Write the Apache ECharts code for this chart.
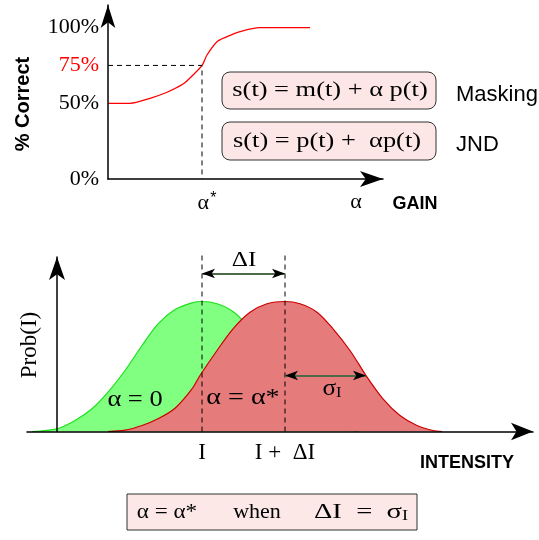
<!DOCTYPE html>
<html><head><meta charset="utf-8">
<script src="https://cdn.jsdelivr.net/npm/echarts@6/dist/echarts.min.js"></script>
<style>html,body{margin:0;padding:0;background:#fff}#c{width:539px;height:540px}</style>
</head><body><div id="c"></div>
<script>
// ---- Top panel: % correct vs gain ----
const gainCurve = [[0,50],[22,50],[42,53.3],[59,57.3],[75,62.7],[85,68.7],[94,75],[99,81.9],[109,90.7],[119,94],[132,97.3],[152,99.9],[202,100]];
const pctTicks = [0, 50, 75, 100];
const thresholdPct = 75;
const alphaStar = 94;
const alphaMark = 248;
const gainLabels = ['α', '*'];

// ---- Bottom panel: intensity distributions ----
const probAlpha0 = [[-25,0],[0,2.7],[18,11],[35,22.7],[51,39.3],[68,61],[85,86],[101,107.7],[118,122],[135,128.7],[145,130],[160,127.7],[177,119.3],[193,102.7],[210,81],[226,56],[243,32.7],[260,16],[277,6],[293,1],[302,0]];
const probAlphaStar = [[51,0],[68,1.3],[85,6],[101,12.7],[118,23.3],[135,42.7],[143,56],[160,81],[176,102.7],[193,119.3],[210,127.7],[228,130],[243,127.7],[260,119.3],[276,102.7],[293,81],[309,56],[326,32.7],[343,16],[360,6],[376,1],[385,0]];
const intensityI = 145;
const intensityIplus = 228;
const guideTop = 177;
const deltaArrowLevel = 158;
const sigmaLevel = 56;
const sigmaEnd = 309;
const intensityLabels = ['I', 'I +  ΔI'];

const SERIF = 'Liberation Serif, Times New Roman, serif';
const SANS = 'Liberation Sans, Arial, sans-serif';

const chart = echarts.init(document.getElementById('c'), null, {renderer: 'canvas'});

function axisLineStyle(size) {
  return {show: true, onZero: true, symbol: ['none', 'arrow'], symbolSize: size,
          lineStyle: {color: '#000', width: 1.5}};
}
function txt(x, y, text, font, sx, extra) {
  return {type: 'text', x: x, y: y, z: 100, scaleX: sx || 1,
    style: Object.assign({text: text, font: font, fill: '#000', align: 'center', verticalAlign: 'middle'}, extra || {})};
}

const option = {
  animation: false,
  backgroundColor: '#fff',
  grid: [
    {left: 108, top: 5, width: 275, height: 174, containLabel: false, outerBoundsMode: 'none'},
    {left: 27, top: 257, width: 506, height: 174.5, containLabel: false, outerBoundsMode: 'none'}
  ],
  xAxis: [
    {type: 'value', gridIndex: 0, min: 0, max: 275, z: 5,
     axisLine: axisLineStyle([12, 23]), axisTick: {show: false}, splitLine: {show: false},
     axisLabel: {customValues: [alphaStar, alphaMark], margin: 12, color: '#000',
       fontFamily: SERIF, fontSize: 22,
       formatter: v => v === alphaStar ? '{p|}{a|' + gainLabels[0] + '}{s|' + gainLabels[1] + '}' : '{a|' + gainLabels[0] + '}',
       rich: {a: {fontFamily: SERIF, fontSize: 22, color: '#000'},
              s: {fontFamily: SANS, fontSize: 16, color: '#000', padding: [0, 0, 8, 1]},
              p: {width: 10}}}},
    {type: 'value', gridIndex: 1, min: -30, max: 476, z: 5,
     axisLine: axisLineStyle([13, 22]), axisTick: {show: false}, splitLine: {show: false},
     axisLabel: {customValues: [intensityI, intensityIplus], margin: 10, color: '#000',
       fontFamily: SERIF, fontSize: 23,
       formatter: v => v === intensityI ? intensityLabels[0] : intensityLabels[1]}}
  ],
  yAxis: [
    {type: 'value', gridIndex: 0, min: 0, max: 114.9, z: 5,
     axisLine: axisLineStyle([11, 23]), axisTick: {show: false}, splitLine: {show: false},
     axisLabel: {customValues: pctTicks, margin: 9, fontFamily: SERIF, fontSize: 22,
       formatter: v => v + '%',
       color: v => (String(v).indexOf(String(thresholdPct)) === 0 ? '#ff0000' : '#000')}},
    {type: 'value', gridIndex: 1, min: 0, max: 174.5, z: 5,
     axisLine: axisLineStyle([12, 23]), axisTick: {show: false}, splitLine: {show: false},
     axisLabel: {show: false}}
  ],
  series: [
    {type: 'line', xAxisIndex: 0, yAxisIndex: 0, data: gainCurve, smooth: 0.3, symbol: 'none',
     lineStyle: {color: '#ff0000', width: 1.3}, z: 3},
    {type: 'line', xAxisIndex: 0, yAxisIndex: 0,
     data: [[0, thresholdPct], [alphaStar, thresholdPct], [alphaStar, 0]], symbol: 'none',
     lineStyle: {color: '#000', width: 1, type: [5, 4]}, z: 3},
    {type: 'line', xAxisIndex: 1, yAxisIndex: 1, data: probAlpha0, smooth: 0.3, symbol: 'none',
     lineStyle: {color: '#1ee01e', width: 1.2}, areaStyle: {color: '#80ff80', opacity: 1}, z: 2},
    {type: 'line', xAxisIndex: 1, yAxisIndex: 1, data: probAlphaStar, smooth: 0.3, symbol: 'none',
     lineStyle: {color: '#cc0000', width: 1.2}, areaStyle: {color: '#e57b7b', opacity: 1}, z: 3},
    {type: 'line', xAxisIndex: 1, yAxisIndex: 1, data: [[intensityI, 0], [intensityI, guideTop]],
     symbol: 'none', clip: false, lineStyle: {color: '#000', width: 1, type: [5, 4]}, z: 4},
    {type: 'line', xAxisIndex: 1, yAxisIndex: 1, data: [[intensityIplus, 0], [intensityIplus, guideTop]],
     symbol: 'none', clip: false, lineStyle: {color: '#000', width: 1, type: [5, 4]}, z: 4},
    {type: 'line', xAxisIndex: 1, yAxisIndex: 1, data: [], symbol: 'none', z: 6,
     markLine: {silent: true, animation: false, symbol: ['none', 'none'], label: {show: false},
       lineStyle: {color: '#4d6b48', width: 2, type: 'solid'},
       data: [[{coord: [intensityI, deltaArrowLevel]}, {coord: [intensityIplus, deltaArrowLevel]}],
              [{coord: [intensityIplus, sigmaLevel]}, {coord: [sigmaEnd, sigmaLevel]}]]}},
    {type: 'line', xAxisIndex: 1, yAxisIndex: 1, data: [], symbol: 'none', z: 7,
     markLine: {silent: true, animation: false, symbol: ['arrow', 'arrow'], symbolSize: [7, 13],
       label: {show: false}, lineStyle: {color: '#000', width: 0, type: 'solid'},
       data: [[{coord: [intensityI, deltaArrowLevel]}, {coord: [intensityIplus, deltaArrowLevel]}],
              [{coord: [intensityIplus, sigmaLevel]}, {coord: [sigmaEnd, sigmaLevel]}]]}}
  ],
  graphic: [
    Object.assign(txt(23, 104, '% Correct', 'bold 20px ' + SANS), {rotation: Math.PI / 2}),
    txt(415, 204, 'GAIN', 'bold 18px ' + SANS),
    {type: 'rect', z: 50, shape: {x: 222, y: 72, width: 214, height: 37, r: 8},
     style: {fill: '#fde6e6', stroke: '#333', lineWidth: 1}},
    {type: 'rect', z: 50, shape: {x: 222, y: 122, width: 214, height: 38, r: 8},
     style: {fill: '#fde6e6', stroke: '#333', lineWidth: 1}},
    txt(330, 90.5, 's(t) = m(t) + α p(t)', '22px ' + SERIF, 1.2),
    txt(327, 141, 's(t) = p(t) +  αp(t)', '22px ' + SERIF, 1.2),
    txt(456, 95, 'Masking', '22px ' + SANS, 1, {align: 'left'}),
    txt(456, 145, 'JND', '22px ' + SANS, 1, {align: 'left'}),
    Object.assign(txt(30, 345, 'Prob(I)', '23px ' + SERIF), {rotation: Math.PI / 2}),
    txt(244, 260, 'ΔI', '21px ' + SERIF, 1.2),
    txt(135, 400, 'α = 0', '23px ' + SERIF, 1.15),
    txt(243, 398, 'α = α*', '23px ' + SERIF, 1.22),
    {type: 'text', x: 332, y: 389, z: 100, scaleX: 1.1,
     style: {text: '{a|σ}{b|I}', align: 'center', verticalAlign: 'middle',
       rich: {a: {font: '23px ' + SERIF, fill: '#000'}, b: {font: '15px ' + SERIF, fill: '#000', padding: [8, 0, 0, 0]}}}},
    txt(467, 463, 'INTENSITY', 'bold 18px ' + SANS),
    {type: 'rect', z: 50, shape: {x: 127, y: 494, width: 290, height: 36},
     style: {fill: '#fde8e8', stroke: '#333', lineWidth: 1}},
    txt(167, 512, 'α = α*', '22px ' + SERIF, 1.05),
    txt(257, 512, 'when', '22px ' + SERIF),
    {type: 'text', x: 361, y: 512, z: 100, scaleX: 1.3,
     style: {text: '{a|ΔI  =  σ}{b|I}', align: 'center', verticalAlign: 'middle',
       rich: {a: {font: '22px ' + SERIF, fill: '#000'}, b: {font: '14px ' + SERIF, fill: '#000', padding: [8, 0, 0, 0]}}}}
  ]
};
chart.setOption(option);
</script>
</body></html>
